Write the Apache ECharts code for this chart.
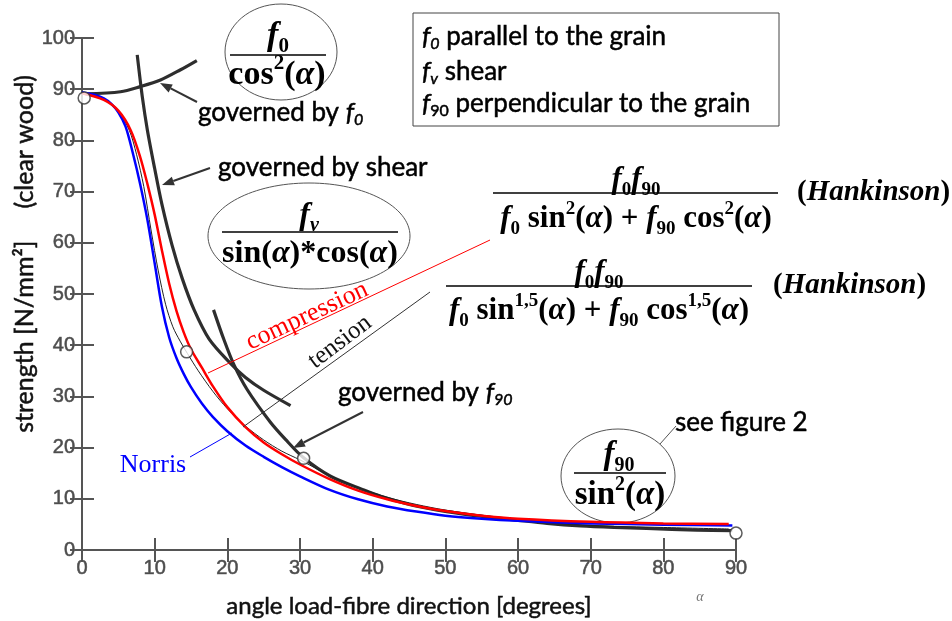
<!DOCTYPE html>
<html><head><meta charset="utf-8">
<script src="https://cdn.jsdelivr.net/npm/echarts@6/dist/echarts.min.js"></script>
<style>html,body{margin:0;padding:0;background:#fff}#c{width:952px;height:621px}</style>
</head><body><div id="c"></div>
<script>
// ---------- data ----------
const alphaNorris    = [0, 2, 3, 4, 5, 6, 7, 8, 9, 10, 11, 12, 13, 14, 15, 16.5, 18, 20, 22.5, 25, 27.5, 30, 34, 38, 42, 46, 50, 55, 60, 70, 80, 89.5];
const strengthNorris = [89.4, 88.8, 88.2, 87.2, 85.5, 82.7, 77.5, 71.5, 64.5, 56, 47.5, 41.5, 37.5, 34.4, 31.8, 28.6, 26.0, 23.2, 20.4, 18.2, 16.2, 14.4, 11.8, 9.9, 8.5, 7.5, 6.7, 6.1, 5.7, 5.2, 4.95, 4.8];

const alphaCompression    = [0, 3, 5, 6.7, 8, 9, 10, 11, 12, 13, 14, 15, 16.5, 18, 20, 22.5, 25, 27.5, 30, 34, 38, 42, 46, 50, 55, 60, 70, 80, 89];
const strengthCompression = [89.2, 87.9, 85.8, 82, 76.8, 71.5, 65.5, 58.5, 52, 46.7, 42.5, 39.2, 35.6, 32.0, 27.9, 24.0, 21.0, 18.7, 16.7, 13.9, 11.6, 9.9, 8.6, 7.6, 6.7, 6.1, 5.5, 5.2, 5.1];

const alphaTension    = [0, 3, 5, 6.5, 7.5, 8.5, 9.5, 10.5, 11.5, 12.5, 13.5, 14.5, 16, 18, 20, 22.5, 25, 27.5, 30, 34, 38, 42, 46, 50, 55, 60, 70, 80, 89];
const strengthTension = [89.3, 88.0, 85.6, 82.0, 77.3, 71, 62.5, 54.5, 48, 43.6, 40.8, 38.4, 35.0, 31.0, 27.6, 24.2, 21.5, 19.3, 17.6, 14.6, 12.2, 10.3, 8.9, 7.8, 6.8, 5.9, 4.8, 4.4, 4.1];

const alphaF0    = [0.5, 5.3, 8, 10.8, 13.5, 15.8];
const strengthF0 = [89.1, 89.5, 90.5, 91.8, 93.75, 95.6];

const alphaShear    = [7.6, 8.3, 9, 10, 11, 12.4, 13.8, 15.4, 17.5, 20.4, 22.5, 25, 28.7];
const strengthShear = [96.7, 88.5, 82, 74.5, 67.5, 59.5, 53, 47, 41.2, 36.5, 33.7, 31.2, 28.2];

const alphaF90    = [18.1, 19.5, 20.9, 22.7, 25.9, 28, 30.5, 34.2, 38.8, 41.1, 45.6, 50.2, 54.8, 59.4, 64, 68.6, 73.2, 77.7, 84.6, 89.5];
const strengthF90 = [46.9, 41.2, 36.2, 31.4, 25.0, 21.6, 18.0, 14.4, 11.7, 10.5, 8.7, 7.5, 6.6, 5.9, 5.2, 4.7, 4.4, 4.2, 3.9, 3.8];

const circleAlpha    = [0.3, 14.4, 30.5, 90];
const circleStrength = [88.3, 38.7, 17.9, 3.3];

const xTitle = 'angle load-fibre direction [degrees]';
const yTitle = 'strength [N/mm\u00B2]     (clear wood)';

// ---------- helpers ----------
const zip = (a, b) => a.map((v, i) => [v, b[i]]);
const serif = "'Liberation Serif','Times New Roman',serif";
const sans = "Lato, 'Open Sans', sans-serif";

function mathRich(S) {
  const sub = Math.round(S * 0.62);
  return {
    f:  {fontFamily: serif, fontStyle: 'italic', fontWeight: 'bold', fontSize: S, lineHeight: Math.round(S * 1.25)},
    b:  {fontFamily: serif, fontWeight: 'bold', fontSize: S, lineHeight: Math.round(S * 1.25)},
    sb: {fontFamily: serif, fontWeight: 'bold', fontSize: sub, lineHeight: sub, verticalAlign: 'bottom'},
    si: {fontFamily: serif, fontStyle: 'italic', fontWeight: 'bold', fontSize: sub, lineHeight: sub, verticalAlign: 'bottom'},
    sp: {fontFamily: serif, fontWeight: 'bold', fontSize: sub, lineHeight: sub, verticalAlign: 'top'}
  };
}
function txt(x, y, text, opt) {
  opt = opt || {};
  const st = {
    text: text, fill: opt.fill || '#000',
    align: opt.align || 'left', verticalAlign: 'middle',
    textAlign: opt.align || 'left', textVerticalAlign: 'middle',
    fontFamily: opt.fontFamily || sans, fontSize: opt.fontSize || 26,
    fontStyle: opt.fontStyle || 'normal', fontWeight: opt.fontWeight || 'normal'
  };
  if (opt.rich) st.rich = opt.rich;
  if (opt.bold) { st.stroke = opt.fill || '#000'; st.lineWidth = opt.bold; }
  return {type: 'text', x: x, y: y, z: opt.z == null ? 100 : opt.z, rotation: opt.rotation || 0, style: st};
}
function hline(x1, x2, y, z, color, w) {
  return {type: 'line', z: z == null ? 100 : z, shape: {x1: x1, y1: y, x2: x2, y2: y}, style: {stroke: color || '#000', lineWidth: w || 1.5}};
}
function seg(x1, y1, x2, y2, color, w, z) {
  return {type: 'line', z: z == null ? 100 : z, shape: {x1: x1, y1: y1, x2: x2, y2: y2}, style: {stroke: color, lineWidth: w}};
}
function arrow(x1, y1, x2, y2, color) {
  const dx = x2 - x1, dy = y2 - y1, L = Math.hypot(dx, dy), ux = dx / L, uy = dy / L;
  const hl = 12, hw = 4.5;
  const bx = x2 - ux * hl, by = y2 - uy * hl;
  return [
    seg(x1, y1, bx, by, color, 2),
    {type: 'polygon', z: 100, shape: {points: [[x2, y2], [bx - uy * hw, by + ux * hw], [bx + uy * hw, by - ux * hw]]}, style: {fill: color}}
  ];
}
function ellipse(cx, cy, rx, ry, z) {
  return {type: 'ellipse', z: z == null ? 100 : z, shape: {cx: cx, cy: cy, rx: rx, ry: ry}, style: {fill: '#fff', stroke: '#555', lineWidth: 1}};
}

const R34 = mathRich(34), R32 = mathRich(32), R33 = mathRich(33), R31 = mathRich(31), R29 = mathRich(29);
const lr = {
  fi: {fontFamily: sans, fontStyle: 'italic', fontSize: 26, lineHeight: 30},
  s:  {fontFamily: sans, fontStyle: 'italic', fontSize: 16, lineHeight: 16, verticalAlign: 'bottom'},
  su: {fontFamily: sans, fontSize: 16, lineHeight: 16, verticalAlign: 'bottom'},
  t:  {fontFamily: sans, fontSize: 26, lineHeight: 30}
};
const B = 0.5; // slight emboldening of the sans texts

const graphics = [].concat(
  // ellipse 1: f0 / cos^2
  [ellipse(281, 52, 56, 48),
   txt(278, 36, '{f|f}{sb|0}', {align: 'center', rich: R34}),
   hline(230, 326, 55),
   txt(277, 75, '{b|cos}{sp|2}{b|(}{f|\u03B1}{b|)}', {align: 'center', rich: R34})],
  // ellipse 2: fv / sin*cos
  [ellipse(309, 236, 101, 53),
   txt(309, 216, '{f|f}{si|v}', {align: 'center', rich: R32}),
   hline(222, 398, 232),
   txt(310, 254, '{b|sin(}{f|\u03B1}{b|)*cos(}{f|\u03B1}{b|)}', {align: 'center', rich: R32})],
  // ellipse 3: f90 / sin^2 (behind the curves)
  [ellipse(618, 476, 57, 47, 1),
   txt(619, 455, '{f|f}{sb|90}', {align: 'center', rich: R33, z: 1}),
   hline(574, 666, 473, 1),
   txt(620, 495, '{b|sin}{sp|2}{b|(}{f|\u03B1}{b|)}', {align: 'center', rich: R33, z: 1})],
  // Hankinson n=2
  [{type: 'rect', z: 50, shape: {x: 486, y: 150, width: 466, height: 86}, style: {fill: '#fff'}},
   txt(636, 180, '{f|f}{sb|0}{f|f}{sb|90}', {align: 'center', rich: R31}),
   hline(493, 778, 193),
   txt(636, 219, '{f|f}{sb|0}{b| sin}{sp|2}{b|(}{f|\u03B1}{b|) + }{f|f}{sb|90}{b| cos}{sp|2}{b|(}{f|\u03B1}{b|)}', {align: 'center', rich: R31}),
   txt(797, 193, '{b|(}{f|Hankinson}{b|)}', {rich: R29})],
  // Hankinson n=1.5
  [{type: 'rect', z: 50, shape: {x: 438, y: 250, width: 497, height: 88}, style: {fill: '#fff'}},
   txt(599, 273, '{f|f}{sb|0}{f|f}{sb|90}', {align: 'center', rich: R31}),
   hline(446, 752, 286),
   txt(599, 311, '{f|f}{sb|0}{b| sin}{sp|1,5}{b|(}{f|\u03B1}{b|) + }{f|f}{sb|90}{b| cos}{sp|1,5}{b|(}{f|\u03B1}{b|)}', {align: 'center', rich: R31}),
   txt(773, 286, '{b|(}{f|Hankinson}{b|)}', {rich: R29})],
  // legend box
  [{type: 'rect', z: 90, shape: {x: 413, y: 13, width: 366, height: 113}, style: {fill: '#fff', stroke: '#444', lineWidth: 1}},
   txt(422, 37, '{fi|f}{s|0}{t| parallel to the grain}', {rich: lr, bold: B}),
   txt(422, 72, '{fi|f}{s|v}{t| shear}', {rich: lr, bold: B}),
   txt(422, 104, '{fi|f}{su|90}{t| perpendicular to the grain}', {rich: lr, bold: B})],
  // annotation texts
  [txt(198, 113, '{t|governed by }{fi|f}{s|0}', {rich: lr, bold: B}),
   txt(218, 168, 'governed by shear', {bold: B}),
   txt(338, 393, '{t|governed by }{fi|f}{s|90}', {rich: lr, bold: B}),
   txt(675, 423, 'see figure 2', {bold: B})],
  // arrows and leaders
  arrow(197, 102, 160, 83, '#333'),
  arrow(210, 168, 162, 185, '#333'),
  arrow(363, 412, 293, 448, '#333'),
  [seg(676, 426, 660, 444, '#555', 1),
   seg(190, 457, 232, 433, '#0000ff', 1),
   seg(208, 373, 490, 240, '#ff0000', 1),
   seg(243, 427, 430, 292, '#333', 1)],
  // rotated labels
  [txt(307, 316, 'compression', {align: 'center', fontFamily: serif, fontSize: 26, fill: '#ff0000', rotation: 25 * Math.PI / 180}),
   txt(340, 342, 'tension', {align: 'center', fontFamily: serif, fontSize: 25, fill: '#111', rotation: 37 * Math.PI / 180}),
   txt(153, 465, 'Norris', {align: 'center', fontFamily: serif, fontSize: 26, fill: '#0000ff'})],
  // axis titles
  [txt(409, 606, xTitle, {align: 'center', fontSize: 24, fill: '#111', bold: B}),
   txt(25, 254, yTitle, {align: 'center', fontSize: 25, fill: '#111', bold: B, rotation: Math.PI / 2}),
   txt(700, 597, '\u03B1', {align: 'center', fontFamily: serif, fontStyle: 'italic', fontSize: 14, fill: '#777'})]
);

const axisCommon = {
  type: 'value', min: 0, interval: 10,
  axisLine: {show: true, lineStyle: {color: '#555', width: 2}},
  axisTick: {show: true, inside: true, length: 12, lineStyle: {color: '#555', width: 2}},
  splitLine: {show: false}
};
const tickLabel = {color: '#4d4d4d', fontSize: 20, fontFamily: "'Liberation Sans', Arial, sans-serif", textBorderColor: '#6a6a6a', textBorderWidth: 0.6};

const option = {
  backgroundColor: '#fff',
  animation: false,
  grid: {left: 82, right: 216, top: 38, bottom: 71},
  xAxis: [
    Object.assign({}, axisCommon, {position: 'bottom', max: 90, axisLabel: Object.assign({margin: 8}, tickLabel)}),
    Object.assign({}, axisCommon, {position: 'top', max: 90, axisLabel: {show: false}})
  ],
  yAxis: [
    Object.assign({}, axisCommon, {position: 'left', max: 100, axisLabel: Object.assign({margin: 7}, tickLabel)}),
    Object.assign({}, axisCommon, {position: 'right', max: 100, axisLabel: {show: false}})
  ],
  series: [
    {type: 'line', data: zip(alphaF0, strengthF0), showSymbol: false, smooth: 0.3, z: 2, lineStyle: {color: '#2e2e2e', width: 3.2}},
    {type: 'line', data: zip(alphaShear, strengthShear), showSymbol: false, smooth: 0.3, z: 2, lineStyle: {color: '#2e2e2e', width: 3.2}},
    {type: 'line', data: zip(alphaF90, strengthF90), showSymbol: false, smooth: 0.3, z: 2, lineStyle: {color: '#2e2e2e', width: 3.2}},
    {type: 'line', data: zip(alphaTension, strengthTension), showSymbol: false, smooth: 0.3, z: 3, lineStyle: {color: '#222', width: 1}},
    {type: 'line', data: zip(alphaNorris, strengthNorris), showSymbol: false, smooth: 0.3, z: 4, lineStyle: {color: '#0000ff', width: 2.5}},
    {type: 'line', data: zip(alphaCompression, strengthCompression), showSymbol: false, smooth: 0.3, z: 5, lineStyle: {color: '#ff0000', width: 2.5}},
    {type: 'scatter', data: zip(circleAlpha, circleStrength), symbol: 'circle', symbolSize: 12, clip: false, z: 6,
      itemStyle: {color: '#fff', borderColor: '#333', borderWidth: 1.5}}
  ],
  graphic: {elements: graphics}
};

const chart = echarts.init(document.getElementById('c'));
chart.setOption(option);
</script>
</body></html>
